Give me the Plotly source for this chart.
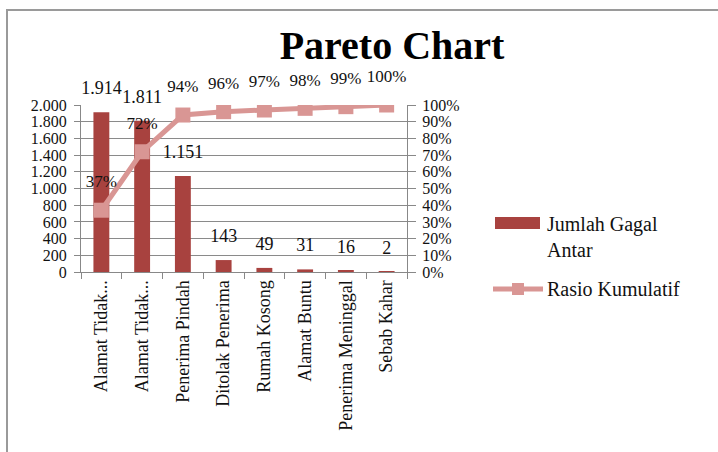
import plotly.graph_objects as go

categories = ["Alamat Tidak Jelas", "Alamat Tidak Lengkap", "Penerima Pindah", "Ditolak Penerima",
              "Rumah Kosong", "Alamat Buntu", "Penerima Meninggal", "Sebab Kahar"]
tick_labels = ["Alamat Tidak...", "Alamat Tidak...", "Penerima Pindah", "Ditolak Penerima",
               "Rumah Kosong", "Alamat Buntu", "Penerima Meninggal", "Sebab Kahar"]
jumlah = [1914, 1811, 1151, 143, 49, 31, 16, 2]
rasio = [37, 72, 94, 96, 97, 98, 99, 100]
series_names = ["Jumlah Gagal<br>Antar", "Rasio Kumulatif"]

FONT = "Liberation Serif"
BAR = "#A8423F"
LINE = "#D99694"
TXT = "#111111"

W, H = 718, 452
L, R, T, B = 81, 311, 105, 180
pw, ph = W - L - R, H - T - B


def px(x):
    return (x - L) / pw


def py(y):
    return (H - B - y) / ph


fig = go.Figure()
fig.add_trace(go.Bar(
    x=categories, y=jumlah, name=series_names[0], showlegend=False,
    marker=dict(color=BAR, line=dict(width=0)), width=0.39,
))
fig.add_trace(go.Scatter(
    x=categories, y=jumlah, mode="markers+text", showlegend=False, hoverinfo="skip",
    marker=dict(size=20, opacity=0),
    text=[f"{v:,}".replace(",", ".") for v in jumlah], textposition="top center",
    cliponaxis=False, textfont=dict(family=FONT, size=18, color=TXT),
))
fig.add_trace(go.Scatter(
    x=categories, y=rasio, name=series_names[1], yaxis="y2", showlegend=False,
    mode="lines+markers", line=dict(color=LINE, width=5),
    marker=dict(symbol="square", size=15, color=LINE),
))
fig.add_trace(go.Scatter(
    x=categories, y=rasio, yaxis="y2", showlegend=False, hoverinfo="skip",
    mode="markers+text", marker=dict(size=28, opacity=0),
    text=[f"{v}%" for v in rasio], textposition="top center", cliponaxis=False,
    textfont=dict(family=FONT, size=17, color=TXT),
))

annotations = [
    dict(text="Jumlah Gagal<br>Antar", xref="paper", yref="paper", x=px(545), y=py(211),
         xanchor="left", yanchor="top", align="left", showarrow=False,
         font=dict(family=FONT, size=20, color=TXT)),
    dict(text="Rasio Kumulatif", xref="paper", yref="paper", x=px(545), y=py(289),
         xanchor="left", yanchor="middle", align="left", showarrow=False,
         font=dict(family=FONT, size=20, color=TXT)),
]

shapes = [
    dict(type="rect", xref="paper", yref="paper", x0=px(7), x1=px(730),
         y0=py(470), y1=py(10), line=dict(color="#9a9a9a", width=2),
         fillcolor="rgba(0,0,0,0)", layer="below"),
    dict(type="rect", xref="paper", yref="paper", x0=px(495), x1=px(540),
         y0=py(229), y1=py(217), line=dict(width=0), fillcolor=BAR),
    dict(type="line", xref="paper", yref="paper", x0=px(493), x1=px(543),
         y0=py(289), y1=py(289), line=dict(color=LINE, width=5)),
    dict(type="rect", xref="paper", yref="paper", x0=px(512), x1=px(524),
         y0=py(295), y1=py(283), line=dict(width=0), fillcolor=LINE),
]

fig.update_layout(
    width=W, height=H,
    margin=dict(l=L, r=R, t=T, b=B, autoexpand=False),
    paper_bgcolor="white", plot_bgcolor="white",
    font=dict(family=FONT, size=16, color=TXT),
    showlegend=False, bargap=0.6,
    xaxis=dict(tickmode="array", tickvals=categories, ticktext=tick_labels,
               range=[-0.5, len(categories) - 0.5], autorange=False,
               tickangle=-90, ticks="outside", tickson="boundaries", ticklen=6,
               tickcolor="#888", showline=True, linecolor="#888", showgrid=False,
               tickfont=dict(family=FONT, size=18, color=TXT)),
    yaxis=dict(range=[0, 2000], tickvals=list(range(0, 2001, 200)),
               ticktext=[f"{v:,}".replace(",", ".") for v in range(0, 2001, 200)],
               ticks="outside", ticklen=6, ticklabelstandoff=4,
               tickcolor="#888", showline=True, linecolor="#888", gridcolor="#8a8a8a",
               gridwidth=1, zeroline=False, tickfont=dict(family=FONT, size=16, color=TXT)),
    yaxis2=dict(range=[0, 100], dtick=10, ticksuffix="%", overlaying="y", side="right",
                ticks="outside", ticklen=8, ticklabelstandoff=3, tickcolor="#888",
                showline=True, linecolor="#888",
                showgrid=False, zeroline=False, tickfont=dict(family=FONT, size=16, color=TXT)),
    title=dict(text="<b>Pareto Chart</b>", xref="container", x=392 / W, xanchor="center",
               yref="container", y=1 - 45 / H, yanchor="middle",
               font=dict(family=FONT, size=40, color="#000")),
    shapes=shapes,
    annotations=annotations,
)

fig.write_html("out.html", config={"displayModeBar": False},
               post_script="document.body.style.margin='0';")
